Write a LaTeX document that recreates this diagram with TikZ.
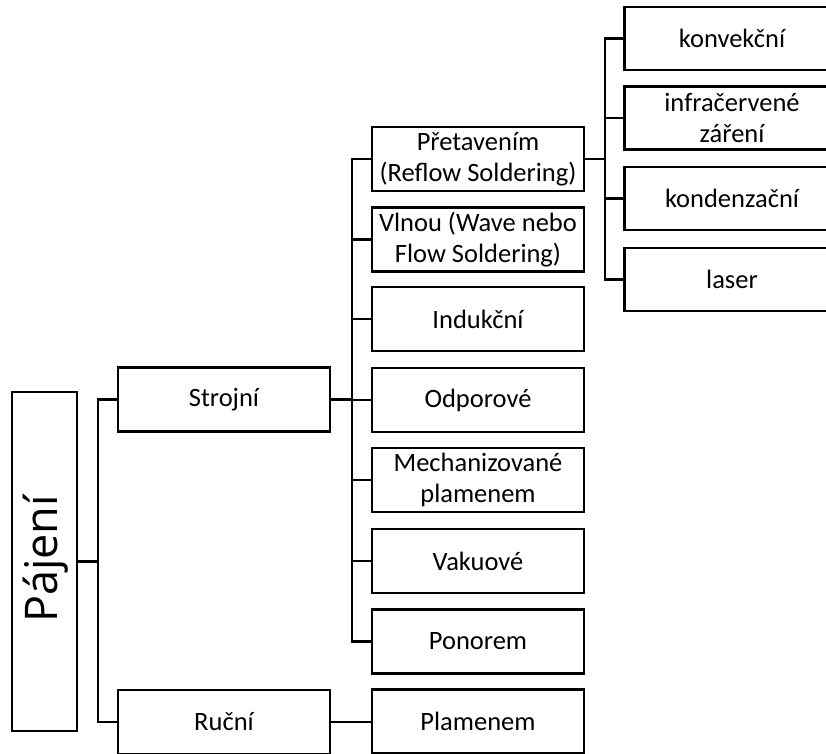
\documentclass[tikz,border=0pt]{standalone}
\usepackage{fontspec}
\setmainfont{Carlito}
\newfontfamily\rootfont{Open Sans}
\begin{document}
\begin{tikzpicture}[x=1pt,y=-1pt,
  line width=2.4pt,
  box/.style={draw, line width=2.4pt, fill=white, inner sep=1pt, align=center,
    font=\fontsize{26.5}{31}\selectfont, minimum width=212pt, minimum height=64pt},
  leaf/.style={box, minimum width=215pt, minimum height=63pt},
  root/.style={draw, line width=2.4pt, minimum width=65pt, minimum height=339pt,
    inner sep=0pt}]
\clip (0,0) rectangle (826,753);

% root
\node[root] (paj) at (44.5,561.5) {};
\node[rotate=90, anchor=base, inner sep=0pt, font=\rootfont\fontsize{45}{50}\selectfont]
  (pajt) at (57,559) {Pájení};

% first level
\node[box] (str) at (224,399.5) {Strojní};
\node[box] (ruc) at (224,722) {Ruční};

% second level
\node[box] (pre) at (478,159) {Přetavením\\(Reflow Soldering)};
\node[box] (vln) at (478,239.5) {Vlnou (Wave nebo\\Flow Soldering)};
\node[box] (ind) at (478,319) {Indukční};
\node[box] (odp) at (478,400) {Odporové};
\node[box] (mec) at (478,480) {Mechanizované\\plamenem};
\node[box] (vak) at (478,561) {Vakuové};
\node[box] (pon) at (478,641.5) {Ponorem};
\node[box] (pla) at (478,721.5) {Plamenem};

% third level
\node[leaf] (kon) at (732,38.5) {konvekční};
\node[leaf] (inf) at (732,118) {infračervené\\záření};
\node[leaf] (kdz) at (732,198.5) {kondenzační};
\node[leaf] (las) at (732,279.5) {laser};

% trunk positions
\coordinate (j0) at (98,0);
\coordinate (j1) at (352,0);
\coordinate (j2) at (605,0);

% connectors from root
\draw (paj.east) -- (paj.east -| j0);
\draw (str.west) -- (str.west -| j0) -- (ruc.west -| j0) -- (ruc.west);

% connectors from Strojní
\draw (str.east) -- (str.east -| j1);
\draw (pre.west) -- (pre.west -| j1) -- (pon.west -| j1) -- (pon.west);
\foreach \n in {vln,ind,odp,mec,vak} \draw (\n.west) -- (\n.west -| j1);

% connector from Ruční
\draw (ruc.east) -- (ruc.east -| pla.west);

% connectors from Přetavením
\draw (pre.east) -- (pre.east -| j2);
\draw (kon.west) -- (kon.west -| j2) -- (las.west -| j2) -- (las.west);
\foreach \n in {inf,kdz} \draw (\n.west) -- (\n.west -| j2);
\end{tikzpicture}
\end{document}
